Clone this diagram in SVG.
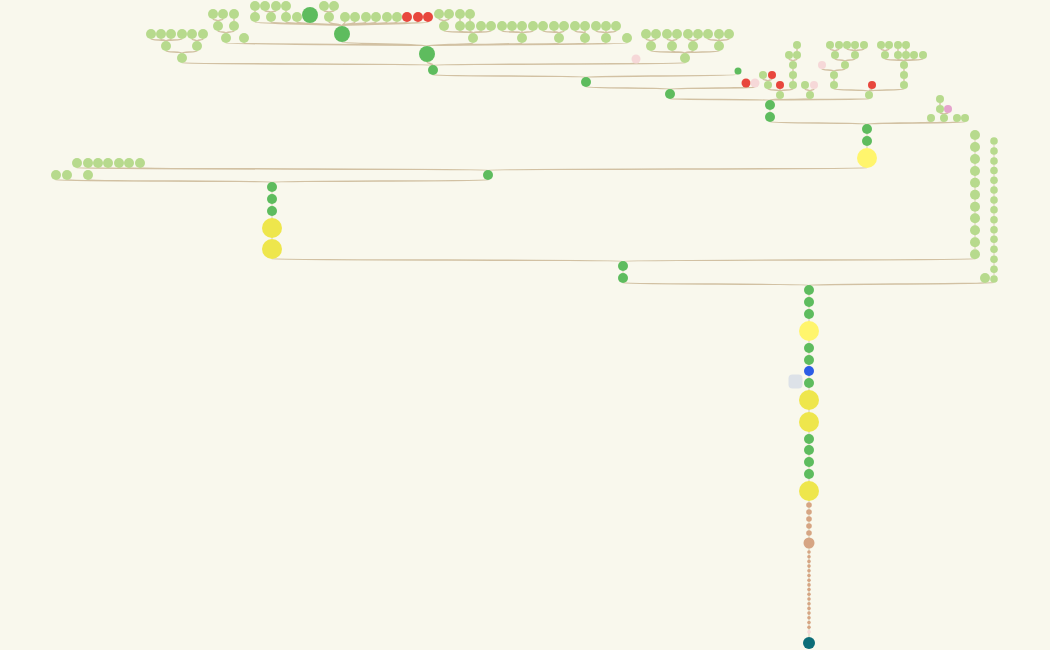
<svg xmlns="http://www.w3.org/2000/svg" width="1050" height="650" viewBox="0 0 1050 650">
<style>
.e{fill:none;stroke:#b89c72;stroke-opacity:.6;stroke-width:1.4}
.v{fill:none;stroke:#c9c09c;stroke-opacity:.6;stroke-width:1.2}
.lg{fill:#b7da8d}
.g{fill:#5ebc5e}
.r{fill:#e8473d}
.pp{fill:#f6d8d8}
.pk{fill:#e5a3cd}
.y{fill:#eee64c}
.ly{fill:#fff56d}
.b{fill:#2c5de6}
.t{fill:#d6a583}
.tl{fill:#0c6d78}
.gb{fill:#dde2e8}
</style>
<rect width="1050" height="650" fill="#f9f8ed"/>
<g id="connectors">
<path class="v" d="M809 295V637M623 271V273M867 134V136M867 146V148M770 110V112M272 192V239M975 140V249M994 144.8V275.2"/>
<path class="e" d="M623 283C623 284 809 284 809 285M985 283C985 284 809 284 809 285M994 282.8C994 284 809 284 809 285"/>
<path class="e" d="M272 259C272 260 623 260 623 261M975 259C975 260 623 260 623 261"/>
<path class="e" d="M56 180C56 181 272 181 272 182M67 180C67 181 272 181 272 182M88 180C88 181 272 181 272 182M488 180C488 181 272 181 272 182"/>
<path class="e" d="M77 168C77 169 488 169 488 170M88 168C88 169 488 169 488 170M98 168C98 169 488 169 488 170M108 168C108 169 488 169 488 170M119 168C119 169 488 169 488 170M129 168C129 169 488 169 488 170M140 168C140 169 488 169 488 170M867 168C867 169 488 169 488 170"/>
<path class="e" d="M770 122C770 123 867 123 867 124M931 122C931 123 867 123 867 124M944 122C944 123 867 123 867 124M957 122C957 123 867 123 867 124M965 122C965 123 867 123 867 124"/>
<path class="e" d="M940 113C940 113.5 944 113.5 944 114M948 113C948 113.5 944 113.5 944 114M940 103V105"/>
<path class="e" d="M670 99C670 99.5 770 99.5 770 100M780 99C780 99.5 770 99.5 770 100M810 99C810 99.5 770 99.5 770 100M869 99C869 99.5 770 99.5 770 100"/>
<path class="e" d="M586 87C586 88 670 88 670 89M746 87.5C746 88 670 88 670 89M755 87.5C755 88 670 88 670 89"/>
<path class="e" d="M433 75C433 76 586 76 586 77M738 74.5C738 76 586 76 586 77"/>
<path class="e" d="M427 62C427 63.5 433 63.5 433 65M182 63C182 64 433 64 433 65M636 63.5C636 64 433 64 433 65M685 63C685 64 433 64 433 65"/>
<path class="e" d="M226 43C226 44.5 427 44.5 427 46M244 43C244 44.5 427 44.5 427 46M342 42C342 44 427 44 427 46M473 43C473 44.5 427 44.5 427 46M522 43C522 44.5 427 44.5 427 46M559 43C559 44.5 427 44.5 427 46M585 43C585 44.5 427 44.5 427 46M606 43C606 44.5 427 44.5 427 46M627 43C627 44.5 427 44.5 427 46"/>
<path class="e" d="M255 22C255 24 342 24 342 26M271 22C271 24 342 24 342 26M286 22C286 24 342 24 342 26M297 22C297 24 342 24 342 26M310 23C310 24.5 342 24.5 342 26M329 22C329 24 342 24 342 26M345 22C345 24 342 24 342 26M355 22C355 24 342 24 342 26M366 22C366 24 342 24 342 26M376 22C376 24 342 24 342 26M387 22C387 24 342 24 342 26M397 22C397 24 342 24 342 26M407 22C407 24 342 24 342 26M418 22C418 24 342 24 342 26M428 22C428 24 342 24 342 26"/>
<path class="e" d="M255 11V12M265 11C265 11.5 271 11.5 271 12M276 11C276 11.5 271 11.5 271 12M286 11V12M324 11C324 11.5 329 11.5 329 12M334 11C334 11.5 329 11.5 329 12"/>
<path class="e" d="M218 31C218 32 226 32 226 33M234 31C234 32 226 32 226 33M213 19C213 20 218 20 218 21M223 19C223 20 218 20 218 21M234 19V21"/>
<path class="e" d="M166 51C166 52 182 52 182 53M197 51C197 52 182 52 182 53M151 39C151 40 166 40 166 41M161 39C161 40 166 40 166 41M171 39C171 40 166 40 166 41M182 39C182 40 166 40 166 41M192 39C192 40 197 40 197 41M203 39C203 40 197 40 197 41"/>
<path class="e" d="M439 19C439 20 444 20 444 21M449 19C449 20 444 20 444 21M460 19V21M470 19V21"/>
<path class="e" d="M444 31C444 32 473 32 473 33M460 31C460 32 473 32 473 33M470 31C470 32 473 32 473 33M481 31C481 32 473 32 473 33M491 31C491 32 473 32 473 33M502 31C502 32 522 32 522 33M512 31C512 32 522 32 522 33M522 31V33M533 31C533 32 522 32 522 33M543 31C543 32 559 32 559 33M554 31C554 32 559 32 559 33M564 31C564 32 559 32 559 33M575 31C575 32 585 32 585 33M585 31V33M596 31C596 32 606 32 606 33M606 31V33M616 31C616 32 606 32 606 33"/>
<path class="e" d="M651 51C651 52 685 52 685 53M672 51C672 52 685 52 685 53M693 51C693 52 685 52 685 53M719 51C719 52 685 52 685 53M646 39C646 40 651 40 651 41M656 39C656 40 651 40 651 41M667 39C667 40 672 40 672 41M677 39C677 40 672 40 672 41M688 39C688 40 693 40 693 41M698 39C698 40 693 40 693 41M708 39C708 40 719 40 719 41M719 39V41M729 39C729 40 719 40 719 41"/>
<path class="e" d="M768 89C768 90 780 90 780 91M780 89V91M793 89C793 90 780 90 780 91M763 79C763 80 768 80 768 81M772 79C772 80 768 80 768 81M793 79V81M793 69V71M789 59C789 60 793 60 793 61M797 59C797 60 793 60 793 61M797 49V51M805 89C805 90 810 90 810 91M814 89C814 90 810 90 810 91"/>
<path class="e" d="M834 89C834 90 869 90 869 91M872 89C872 90 869 90 869 91M904 89C904 90 869 90 869 91M834 79V81M822 69C822 70 834 70 834 71M845 69C845 70 834 70 834 71M835 59C835 60 845 60 845 61M855 59C855 60 845 60 845 61M830 49C830 50 835 50 835 51M839 49C839 50 835 50 835 51M847 49C847 50 855 50 855 51M855 49V51M864 49C864 50 855 50 855 51"/>
<path class="e" d="M904 79V81M904 69V71M885 59C885 60 904 60 904 61M898 59C898 60 904 60 904 61M906 59C906 60 904 60 904 61M914 59C914 60 904 60 904 61M923 59C923 60 904 60 904 61M881 49C881 50 885 50 885 51M889 49C889 50 885 50 885 51M898 49V51M906 49V51"/>
</g>
<g id="main-chain">
<circle class="g" cx="809" cy="290" r="5"/><circle class="g" cx="809" cy="302" r="5"/><circle class="g" cx="809" cy="314" r="5"/>
<circle class="ly" cx="809" cy="331" r="10"/><circle class="g" cx="809" cy="348" r="5"/><circle class="g" cx="809" cy="360" r="5"/>
<circle class="b" cx="809" cy="371" r="5"/><circle class="g" cx="809" cy="383" r="5"/>
<circle class="y" cx="809" cy="400" r="10"/><circle class="y" cx="809" cy="422" r="10"/>
<circle class="g" cx="809" cy="439" r="5"/><circle class="g" cx="809" cy="450" r="5"/><circle class="g" cx="809" cy="462" r="5"/><circle class="g" cx="809" cy="474" r="5"/>
<circle class="y" cx="809" cy="491" r="10"/>
</g>
<g id="note"><rect class="gb" x="788.5" y="374.5" width="14" height="14" rx="4"/></g>
<g id="tan-chain">
<circle class="t" cx="809" cy="505" r="2.8"/><circle class="t" cx="809" cy="512" r="2.8"/><circle class="t" cx="809" cy="519" r="2.8"/><circle class="t" cx="809" cy="526" r="2.8"/><circle class="t" cx="809" cy="533" r="2.8"/>
<circle class="t" cx="809" cy="543" r="5.5"/>
<circle class="t" cx="809" cy="552" r="1.8"/><circle class="t" cx="809" cy="556.7" r="1.8"/><circle class="t" cx="809" cy="561.4" r="1.8"/><circle class="t" cx="809" cy="566.1" r="1.8"/><circle class="t" cx="809" cy="570.8" r="1.8"/><circle class="t" cx="809" cy="575.5" r="1.8"/><circle class="t" cx="809" cy="580.2" r="1.8"/><circle class="t" cx="809" cy="584.9" r="1.8"/><circle class="t" cx="809" cy="589.6" r="1.8"/><circle class="t" cx="809" cy="594.3" r="1.8"/><circle class="t" cx="809" cy="599" r="1.8"/><circle class="t" cx="809" cy="603.7" r="1.8"/><circle class="t" cx="809" cy="608.4" r="1.8"/><circle class="t" cx="809" cy="613.1" r="1.8"/><circle class="t" cx="809" cy="617.8" r="1.8"/><circle class="t" cx="809" cy="622.5" r="1.8"/><circle class="t" cx="809" cy="627.2" r="1.8"/><circle class="pp" cx="809" cy="631.9" r="1.8"/>
</g>
<g id="root"><circle class="tl" cx="809" cy="643" r="6"/></g>
<g id="branch-623"><circle class="g" cx="623" cy="266" r="5"/><circle class="g" cx="623" cy="278" r="5"/></g>
<g id="leaf-985"><circle class="lg" cx="985" cy="278" r="5"/></g>
<g id="col-994">
<circle class="lg" cx="994" cy="141" r="3.8"/><circle class="lg" cx="994" cy="151" r="3.8"/><circle class="lg" cx="994" cy="161" r="3.8"/><circle class="lg" cx="994" cy="170.5" r="3.8"/><circle class="lg" cx="994" cy="180.3" r="3.8"/><circle class="lg" cx="994" cy="190" r="3.8"/><circle class="lg" cx="994" cy="200" r="3.8"/><circle class="lg" cx="994" cy="209.7" r="3.8"/><circle class="lg" cx="994" cy="219.7" r="3.8"/><circle class="lg" cx="994" cy="229.7" r="3.8"/><circle class="lg" cx="994" cy="239.3" r="3.8"/><circle class="lg" cx="994" cy="249.3" r="3.8"/><circle class="lg" cx="994" cy="259.3" r="3.8"/><circle class="lg" cx="994" cy="269.3" r="3.8"/><circle class="lg" cx="994" cy="279" r="3.8"/>
</g>
<g id="col-975">
<circle class="lg" cx="975" cy="135" r="5"/><circle class="lg" cx="975" cy="147" r="5"/><circle class="lg" cx="975" cy="159" r="5"/><circle class="lg" cx="975" cy="171" r="5"/><circle class="lg" cx="975" cy="182.7" r="5"/><circle class="lg" cx="975" cy="194.7" r="5"/><circle class="lg" cx="975" cy="206.7" r="5"/><circle class="lg" cx="975" cy="218.3" r="5"/><circle class="lg" cx="975" cy="230.3" r="5"/><circle class="lg" cx="975" cy="242.3" r="5"/><circle class="lg" cx="975" cy="254.3" r="5"/>
</g>
<g id="col-272">
<circle class="g" cx="272" cy="187" r="5"/><circle class="g" cx="272" cy="199" r="5"/><circle class="g" cx="272" cy="211" r="5"/><circle class="y" cx="272" cy="228" r="10"/><circle class="y" cx="272" cy="249" r="10"/>
</g>
<g id="left-rows">
<circle class="lg" cx="56" cy="175" r="5"/><circle class="lg" cx="67" cy="175" r="5"/><circle class="lg" cx="88" cy="175" r="5"/>
<circle class="lg" cx="77" cy="163" r="5"/><circle class="lg" cx="88" cy="163" r="5"/><circle class="lg" cx="98" cy="163" r="5"/><circle class="lg" cx="108" cy="163" r="5"/><circle class="lg" cx="119" cy="163" r="5"/><circle class="lg" cx="129" cy="163" r="5"/><circle class="lg" cx="140" cy="163" r="5"/>
</g>
<g id="node-488"><circle class="g" cx="488" cy="175" r="5"/></g>
<g id="col-867"><circle class="g" cx="867" cy="129" r="5"/><circle class="g" cx="867" cy="141" r="5"/><circle class="ly" cx="867" cy="158" r="10"/></g>
<g id="col-770"><circle class="g" cx="770" cy="105" r="5"/><circle class="g" cx="770" cy="117" r="5"/></g>
<g id="cluster-940">
<circle class="lg" cx="931" cy="118" r="4"/><circle class="lg" cx="944" cy="118" r="4"/><circle class="lg" cx="957" cy="118" r="4"/><circle class="lg" cx="965" cy="118" r="4"/>
<circle class="lg" cx="940" cy="109" r="4"/><circle class="pk" cx="948" cy="109" r="4"/><circle class="lg" cx="940" cy="99" r="4"/>
</g>
<g id="node-670"><circle class="g" cx="670" cy="94" r="5"/></g>
<g id="node-586"><circle class="g" cx="586" cy="82" r="5"/><circle class="r" cx="746" cy="83" r="4.5"/><circle class="pp" cx="755" cy="83" r="4.5"/></g>
<g id="node-433"><circle class="g" cx="433" cy="70" r="5"/><circle class="g" cx="738" cy="71" r="3.5"/></g>
<g id="node-427"><circle class="g" cx="427" cy="54" r="8"/><circle class="pp" cx="636" cy="59" r="4.5"/></g>
<g id="node-342"><circle class="g" cx="342" cy="34" r="8"/></g>
<g id="top-left">
<circle class="lg" cx="151" cy="34" r="5"/><circle class="lg" cx="161" cy="34" r="5"/><circle class="lg" cx="171" cy="34" r="5"/><circle class="lg" cx="182" cy="34" r="5"/><circle class="lg" cx="192" cy="34" r="5"/><circle class="lg" cx="203" cy="34" r="5"/>
<circle class="lg" cx="166" cy="46" r="5"/><circle class="lg" cx="197" cy="46" r="5"/><circle class="lg" cx="182" cy="58" r="5"/>
<circle class="lg" cx="213" cy="14" r="5"/><circle class="lg" cx="223" cy="14" r="5"/><circle class="lg" cx="234" cy="14" r="5"/>
<circle class="lg" cx="218" cy="26" r="5"/><circle class="lg" cx="234" cy="26" r="5"/>
<circle class="lg" cx="226" cy="38" r="5"/><circle class="lg" cx="244" cy="38" r="5"/>
</g>
<g id="top-row">
<circle class="lg" cx="255" cy="6" r="5"/><circle class="lg" cx="265" cy="6" r="5"/><circle class="lg" cx="276" cy="6" r="5"/><circle class="lg" cx="286" cy="6" r="5"/><circle class="lg" cx="324" cy="6" r="5"/><circle class="lg" cx="334" cy="6" r="5"/>
<circle class="lg" cx="255" cy="17" r="5"/><circle class="lg" cx="271" cy="17" r="5"/><circle class="lg" cx="286" cy="17" r="5"/><circle class="lg" cx="297" cy="17" r="5"/><circle class="g" cx="310" cy="15" r="8"/><circle class="lg" cx="329" cy="17" r="5"/><circle class="lg" cx="345" cy="17" r="5"/><circle class="lg" cx="355" cy="17" r="5"/><circle class="lg" cx="366" cy="17" r="5"/><circle class="lg" cx="376" cy="17" r="5"/><circle class="lg" cx="387" cy="17" r="5"/><circle class="lg" cx="397" cy="17" r="5"/>
<circle class="r" cx="407" cy="17" r="5"/><circle class="r" cx="418" cy="17" r="5"/><circle class="r" cx="428" cy="17" r="5"/>
</g>
<g id="top-mid">
<circle class="lg" cx="439" cy="14" r="5"/><circle class="lg" cx="449" cy="14" r="5"/><circle class="lg" cx="460" cy="14" r="5"/><circle class="lg" cx="470" cy="14" r="5"/>
<circle class="lg" cx="444" cy="26" r="5"/><circle class="lg" cx="460" cy="26" r="5"/><circle class="lg" cx="470" cy="26" r="5"/><circle class="lg" cx="481" cy="26" r="5"/><circle class="lg" cx="491" cy="26" r="5"/><circle class="lg" cx="502" cy="26" r="5"/><circle class="lg" cx="512" cy="26" r="5"/><circle class="lg" cx="522" cy="26" r="5"/><circle class="lg" cx="533" cy="26" r="5"/><circle class="lg" cx="543" cy="26" r="5"/><circle class="lg" cx="554" cy="26" r="5"/><circle class="lg" cx="564" cy="26" r="5"/><circle class="lg" cx="575" cy="26" r="5"/><circle class="lg" cx="585" cy="26" r="5"/><circle class="lg" cx="596" cy="26" r="5"/><circle class="lg" cx="606" cy="26" r="5"/><circle class="lg" cx="616" cy="26" r="5"/>
<circle class="lg" cx="473" cy="38" r="5"/><circle class="lg" cx="522" cy="38" r="5"/><circle class="lg" cx="559" cy="38" r="5"/><circle class="lg" cx="585" cy="38" r="5"/><circle class="lg" cx="606" cy="38" r="5"/><circle class="lg" cx="627" cy="38" r="5"/>
</g>
<g id="top-right-row">
<circle class="lg" cx="646" cy="34" r="5"/><circle class="lg" cx="656" cy="34" r="5"/><circle class="lg" cx="667" cy="34" r="5"/><circle class="lg" cx="677" cy="34" r="5"/><circle class="lg" cx="688" cy="34" r="5"/><circle class="lg" cx="698" cy="34" r="5"/><circle class="lg" cx="708" cy="34" r="5"/><circle class="lg" cx="719" cy="34" r="5"/><circle class="lg" cx="729" cy="34" r="5"/>
<circle class="lg" cx="651" cy="46" r="5"/><circle class="lg" cx="672" cy="46" r="5"/><circle class="lg" cx="693" cy="46" r="5"/><circle class="lg" cx="719" cy="46" r="5"/><circle class="lg" cx="685" cy="58" r="5"/>
</g>
<g id="cluster-780">
<circle class="lg" cx="780" cy="95" r="4"/><circle class="lg" cx="768" cy="85" r="4"/><circle class="r" cx="780" cy="85" r="4"/><circle class="lg" cx="793" cy="85" r="4"/>
<circle class="lg" cx="763" cy="75" r="4"/><circle class="r" cx="772" cy="75" r="4"/><circle class="lg" cx="793" cy="75" r="4"/><circle class="lg" cx="793" cy="65" r="4"/>
<circle class="lg" cx="789" cy="55" r="4"/><circle class="lg" cx="797" cy="55" r="4"/><circle class="lg" cx="797" cy="45" r="4"/>
</g>
<g id="cluster-810"><circle class="lg" cx="810" cy="95" r="4"/><circle class="lg" cx="805" cy="85" r="4"/><circle class="pp" cx="814" cy="85" r="4"/></g>
<g id="cluster-869">
<circle class="lg" cx="869" cy="95" r="4"/><circle class="lg" cx="834" cy="85" r="4"/><circle class="r" cx="872" cy="85" r="4"/><circle class="lg" cx="904" cy="85" r="4"/>
<circle class="lg" cx="834" cy="75" r="4"/><circle class="pp" cx="822" cy="65" r="4"/><circle class="lg" cx="845" cy="65" r="4"/>
<circle class="lg" cx="835" cy="55" r="4"/><circle class="lg" cx="855" cy="55" r="4"/>
<circle class="lg" cx="830" cy="45" r="4"/><circle class="lg" cx="839" cy="45" r="4"/><circle class="lg" cx="847" cy="45" r="4"/><circle class="lg" cx="855" cy="45" r="4"/><circle class="lg" cx="864" cy="45" r="4"/>
<circle class="lg" cx="904" cy="75" r="4"/><circle class="lg" cx="904" cy="65" r="4"/>
<circle class="lg" cx="885" cy="55" r="4"/><circle class="lg" cx="898" cy="55" r="4"/><circle class="lg" cx="906" cy="55" r="4"/><circle class="lg" cx="914" cy="55" r="4"/><circle class="lg" cx="923" cy="55" r="4"/>
<circle class="lg" cx="881" cy="45" r="4"/><circle class="lg" cx="889" cy="45" r="4"/><circle class="lg" cx="898" cy="45" r="4"/><circle class="lg" cx="906" cy="45" r="4"/>
</g>
</svg>
